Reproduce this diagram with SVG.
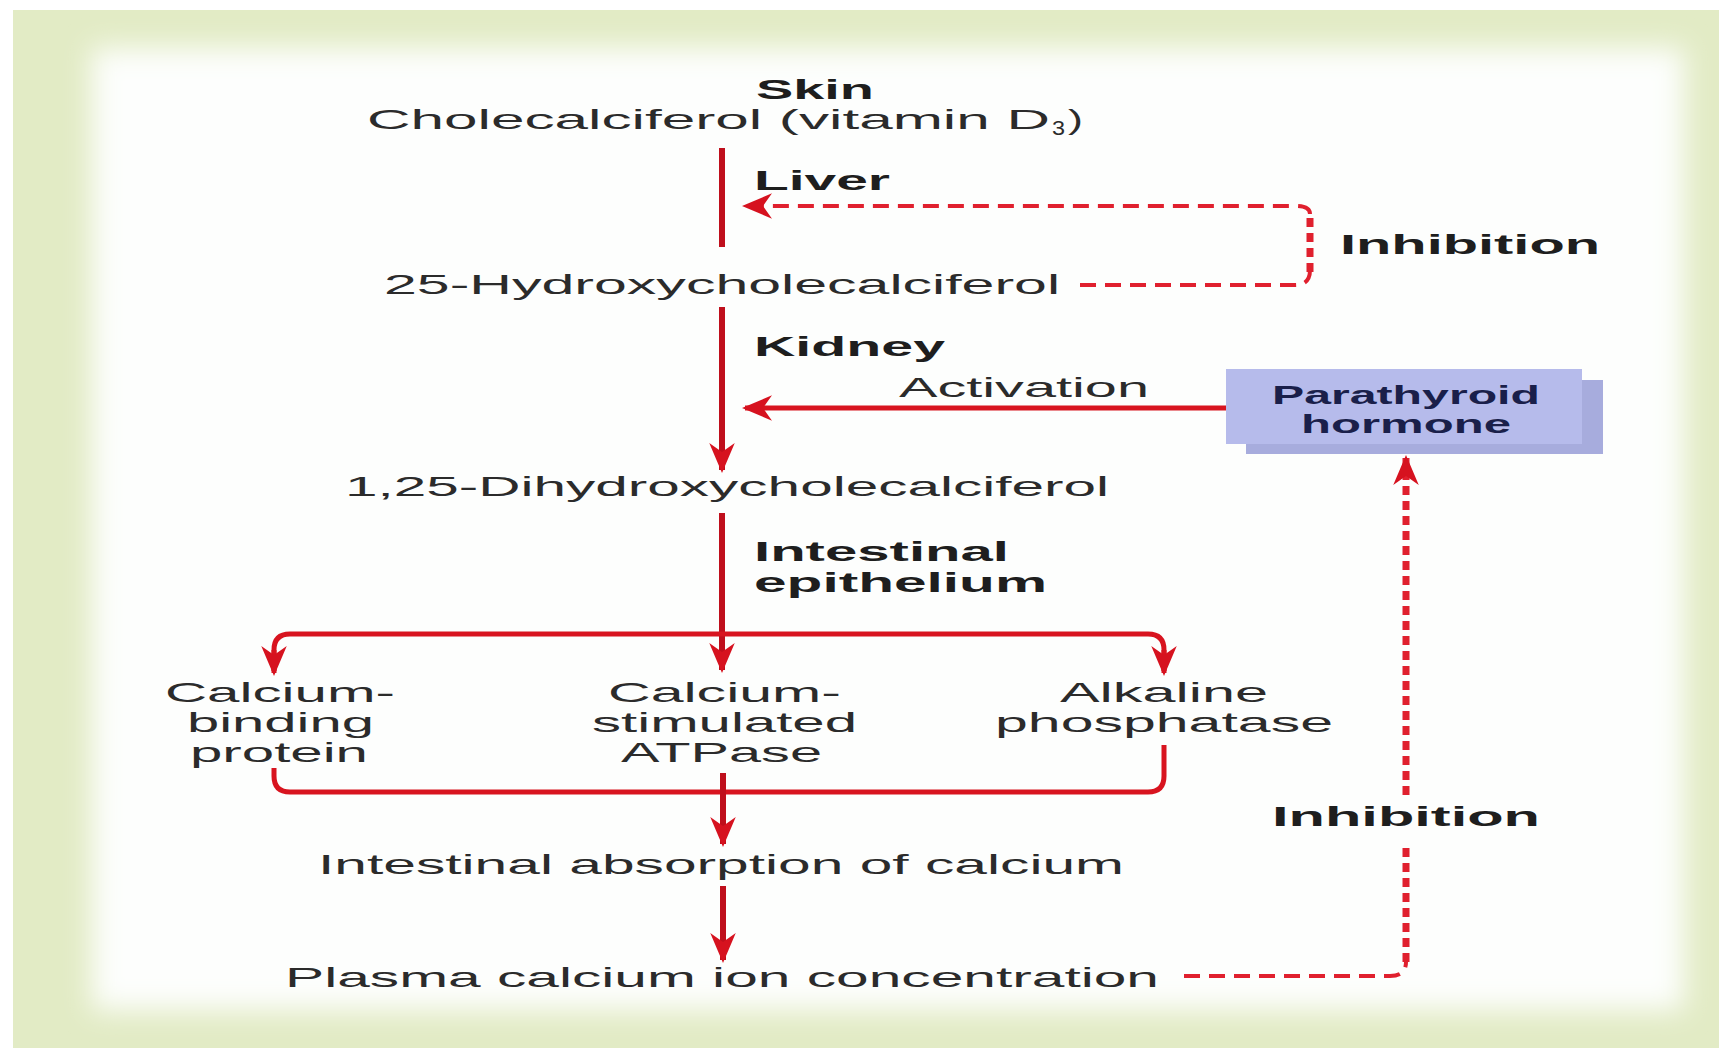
<svg xmlns="http://www.w3.org/2000/svg" width="1719" height="1052" viewBox="0 0 1719 1052">
<style>
.t{font-family:"Liberation Sans",Arial,sans-serif;font-size:28px;fill:#2b2b2b;}
.b{font-weight:bold;fill:#1e1e1e;}
.ln{fill:none;stroke:#bf0f1c;stroke-width:6;}
.br{fill:none;stroke:#d8141f;stroke-width:5;}
.dh{fill:none;stroke:#e0202e;stroke-width:4;stroke-dasharray:16 9;}
.dv{fill:none;stroke:#e0202e;stroke-width:7;stroke-dasharray:9 6;}
.pt{font-family:"Liberation Sans",Arial,sans-serif;font-size:26px;font-weight:bold;fill:#1a1f4a;}
</style>
<defs>
<marker id="ah" viewBox="0 0 20 20" refX="18" refY="10" markerWidth="30" markerHeight="30" markerUnits="userSpaceOnUse" orient="auto">
<path d="M0,1.5 L20,10 L0,18.5 L6,10 z" fill="#d6121f"/>
</marker>
<filter id="blur" x="-10%" y="-10%" width="120%" height="120%"><feGaussianBlur stdDeviation="14"/></filter>
</defs>
<rect x="0" y="0" width="1719" height="1052" fill="#ffffff"/>
<rect x="13" y="10" width="1706" height="1038" fill="#e2ebc5"/>
<rect x="92" y="48" width="1592" height="962" fill="#fdfefd" filter="url(#blur)"/>

<g id="connectors">
<line class="ln" x1="722" y1="148" x2="722" y2="247"/>
<path class="dh" d="M1080,285 L1295,285 Q1310,285 1310,270"/>
<path class="dv" d="M1310,272 L1310,215"/>
<path class="dh" d="M1310,214 Q1310,206 1295,206 L745,206" marker-end="url(#ah)"/>
<line class="ln" x1="722" y1="307" x2="722" y2="470" marker-end="url(#ah)"/>
<line class="br" x1="1226" y1="408" x2="745" y2="408" marker-end="url(#ah)"/>
<line class="ln" x1="722" y1="513" x2="722" y2="670" marker-end="url(#ah)"/>
<path class="br" d="M274,671 L274,650 Q274,634 290,634 L1148,634 Q1164,634 1164,650 L1164,671"/>
<path class="br" d="M1164,650 L1164,673" marker-end="url(#ah)"/>
<path class="br" d="M274,650 L274,673" marker-end="url(#ah)"/>
<path class="br" d="M274,768 L274,776 Q274,792 290,792 L1148,792 Q1164,792 1164,776 L1164,745"/>
<line class="ln" x1="723" y1="773" x2="723" y2="844" marker-end="url(#ah)"/>
<line class="ln" x1="723" y1="886" x2="723" y2="960" marker-end="url(#ah)"/>
<path class="dh" d="M1184,976 L1390,976 Q1406,976 1406,962"/>
<path class="dv" d="M1406,962 L1406,845"/>
<path class="dv" d="M1406,795 L1406,458" marker-end="url(#ah)"/>
</g>

<g id="node-skin"><text class="t b" x="756" y="99" textLength="118" lengthAdjust="spacingAndGlyphs">Skin</text></g>
<g id="node-cholecalciferol">
<text class="t" x="367" y="129" textLength="683" lengthAdjust="spacingAndGlyphs">Cholecalciferol (vitamin D</text>
<text class="t" x="1052" y="135" style="font-size:20px" textLength="13" lengthAdjust="spacingAndGlyphs">3</text>
<text class="t" x="1068" y="129" textLength="15" lengthAdjust="spacingAndGlyphs">)</text>
</g>
<g id="label-liver"><text class="t b" x="754" y="190" textLength="136" lengthAdjust="spacingAndGlyphs">Liver</text></g>
<g id="label-inhibition-1"><text class="t b" x="1340" y="254" textLength="260" lengthAdjust="spacingAndGlyphs">Inhibition</text></g>
<g id="node-25"><text class="t" x="384" y="294" textLength="676" lengthAdjust="spacingAndGlyphs">25-Hydroxycholecalciferol</text></g>
<g id="label-kidney"><text class="t b" x="754" y="356" textLength="191" lengthAdjust="spacingAndGlyphs">Kidney</text></g>
<g id="label-activation"><text class="t" x="899" y="397" textLength="250" lengthAdjust="spacingAndGlyphs">Activation</text></g>
<g id="node-pth">
<rect x="1246" y="380" width="357" height="74" fill="#a7acdd"/>
<rect x="1226" y="369" width="356" height="75" fill="#b6bbeb"/>
<text class="pt" x="1272" y="404" textLength="268" lengthAdjust="spacingAndGlyphs">Parathyroid</text>
<text class="pt" x="1301" y="433" textLength="210" lengthAdjust="spacingAndGlyphs">hormone</text>
</g>
<g id="node-125"><text class="t" x="345" y="496" textLength="764" lengthAdjust="spacingAndGlyphs">1,25-Dihydroxycholecalciferol</text></g>
<g id="label-intestinal-epithelium">
<text class="t b" x="754" y="561" textLength="255" lengthAdjust="spacingAndGlyphs">Intestinal</text>
<text class="t b" x="754" y="592" textLength="293" lengthAdjust="spacingAndGlyphs">epithelium</text>
</g>
<g id="node-cbp">
<text class="t" x="165" y="702" textLength="230" lengthAdjust="spacingAndGlyphs">Calcium-</text>
<text class="t" x="187" y="732" textLength="187" lengthAdjust="spacingAndGlyphs">binding</text>
<text class="t" x="190" y="762" textLength="178" lengthAdjust="spacingAndGlyphs">protein</text>
</g>
<g id="node-atpase">
<text class="t" x="608" y="702" textLength="233" lengthAdjust="spacingAndGlyphs">Calcium-</text>
<text class="t" x="592" y="732" textLength="265" lengthAdjust="spacingAndGlyphs">stimulated</text>
<text class="t" x="621" y="762" textLength="201" lengthAdjust="spacingAndGlyphs">ATPase</text>
</g>
<g id="node-alp">
<text class="t" x="1060" y="702" textLength="208" lengthAdjust="spacingAndGlyphs">Alkaline</text>
<text class="t" x="995" y="732" textLength="338" lengthAdjust="spacingAndGlyphs">phosphatase</text>
</g>
<g id="node-absorption"><text class="t" x="318" y="874" textLength="806" lengthAdjust="spacingAndGlyphs">Intestinal absorption of calcium</text></g>
<g id="label-inhibition-2"><text class="t b" x="1272" y="826" textLength="268" lengthAdjust="spacingAndGlyphs">Inhibition</text></g>
<g id="node-plasma"><text class="t" x="285" y="987" textLength="874" lengthAdjust="spacingAndGlyphs">Plasma calcium ion concentration</text></g>
</svg>
